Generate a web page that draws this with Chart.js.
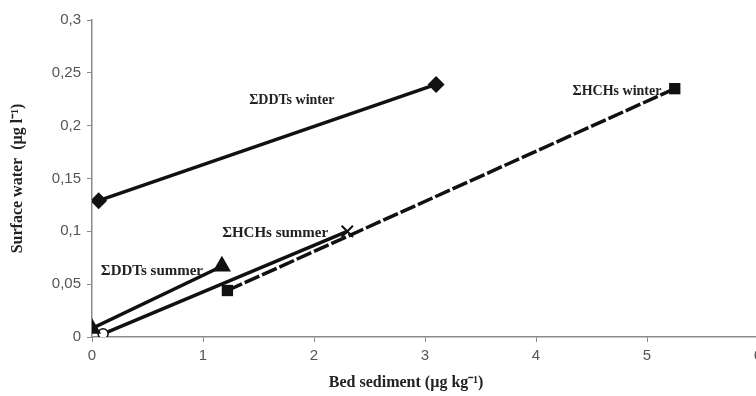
<!DOCTYPE html>
<html>
<head>
<meta charset="utf-8">
<script src="https://cdn.jsdelivr.net/npm/chart.js@4.4.0/dist/chart.umd.min.js"></script>
<style>
  html, body { margin:0; padding:0; background:#fff; overflow:hidden; }
  #wrap { width:770px; height:396px; }
</style>
</head>
<body>
<div id="wrap"><canvas id="chart"></canvas></div>
<script>
// series values (x = bed sediment, y = surface water)
const ddtWinterX = [0.06, 3.1];
const ddtWinterY = [0.129, 0.239];
const hchWinterX = [1.22, 5.25];
const hchWinterY = [0.044, 0.235];
const ddtSummerX = [0.0, 1.17];
const ddtSummerY = [0.008, 0.067];
const hchSummerX = [0.1, 2.3];
const hchSummerY = [0.003, 0.1];

// series labels written next to the lines
const seriesNames = ["ΣDDTs winter", "ΣHCHs winter", "ΣDDTs summer", "ΣHCHs summer"];
const labelX = [1.8, 5.13, 0.54, 1.65];
const labelY = [0.224, 0.232, 0.062, 0.098];
const labelAlign = ["center", "right", "center", "center"];
const labelSize = [14, 14, 15, 15];

const xTicks = [0, 1, 2, 3, 4, 5, 6];
const yTicks = [0, 0.05, 0.1, 0.15, 0.2, 0.25, 0.3];
const xTitle = 'Bed sediment (µg kg⁻¹)';
const yTitle = 'Surface water  (µg l⁻¹)';

const pts = (xs, ys) => xs.map((x, i) => ({x: x, y: ys[i]}));
const serif = '"Liberation Serif", "Times New Roman", serif';

// texte des series + titre X
const seriesLabels = {
    id: 'seriesLabels',
    afterDatasetsDraw(chart) {
        const ctx = chart.ctx;
        const xs = chart.scales.x, ys = chart.scales.y;
        ctx.save();
        ctx.fillStyle = '#222';
        ctx.textBaseline = 'middle';
        seriesNames.forEach((name, i) => {
            ctx.font = 'bold ' + labelSize[i] + 'px ' + serif;
            ctx.textAlign = labelAlign[i];
            ctx.fillText(name, xs.getPixelForValue(labelX[i]), ys.getPixelForValue(labelY[i]));
        });
        ctx.font = 'bold 16px ' + serif;
        ctx.textAlign = 'center';
        ctx.fillText(xTitle, xs.getPixelForValue(2.83), chart.height - 13);
        ctx.restore();
    }
};

const axisGray = '#8a8a8a';
const tickFont = {family: '"Liberation Sans", Arial, sans-serif', size: 15};

new Chart(document.getElementById('chart'), {
    type: 'scatter',
    data: {
        datasets: [
            {
                label: seriesNames[0], data: pts(ddtWinterX, ddtWinterY), showLine: true,
                borderColor: '#111', backgroundColor: '#111', borderWidth: 3.5,
                pointStyle: 'rectRot', pointRadius: 6
            },
            {
                label: seriesNames[1], data: pts(hchWinterX, hchWinterY), showLine: true,
                borderColor: '#111', backgroundColor: '#111', borderWidth: 3.5, borderDash: [16, 3],
                pointStyle: 'rect', pointRadius: 8, pointBorderWidth: 0
            },
            {
                label: seriesNames[2], data: pts(ddtSummerX, ddtSummerY), showLine: true,
                borderColor: '#111', backgroundColor: '#111', borderWidth: 3.5,
                pointStyle: 'triangle', pointRadius: 7
            },
            {
                label: seriesNames[3], data: pts(hchSummerX, hchSummerY), showLine: true,
                borderColor: '#111', backgroundColor: ['#fff', '#111'], borderWidth: 3.5,
                pointStyle: ['circle', 'crossRot'], pointRadius: [5, 8],
                pointBorderWidth: [1.5, 2], pointBorderColor: '#111'
            }
        ]
    },
    options: {
        animation: false,
        responsive: true,
        maintainAspectRatio: false,
        layout: {padding: {top: 20, right: 12, left: 0, bottom: 0}},
        plugins: {legend: {display: false}, tooltip: {enabled: false}},
        scales: {
            x: {
                type: 'linear', min: 0, max: 6,
                afterBuildTicks: s => { s.ticks = xTicks.map(v => ({value: v})); },
                afterFit: s => { s.height = 59; },
                border: {color: axisGray, width: 1.5},
                grid: {drawOnChartArea: false, tickLength: 5, tickColor: axisGray},
                ticks: {color: '#555', font: tickFont, padding: 5}
            },
            y: {
                type: 'linear', min: 0, max: 0.3,
                afterBuildTicks: s => { s.ticks = yTicks.map(v => ({value: v})); },
                afterFit: s => { s.width = 92; },
                border: {color: axisGray, width: 1.5},
                grid: {drawOnChartArea: false, tickLength: 5, tickColor: axisGray},
                ticks: {
                    color: '#555', font: tickFont, padding: 6,
                    callback: v => Number(v.toFixed(2)).toString().replace('.', ',')
                },
                title: {display: true, text: yTitle, color: '#222', font: {family: serif, size: 16, weight: 'bold'}, padding: {top: 8, bottom: 0}}
            }
        }
    },
    plugins: [seriesLabels]
});
</script>
</body>
</html>
